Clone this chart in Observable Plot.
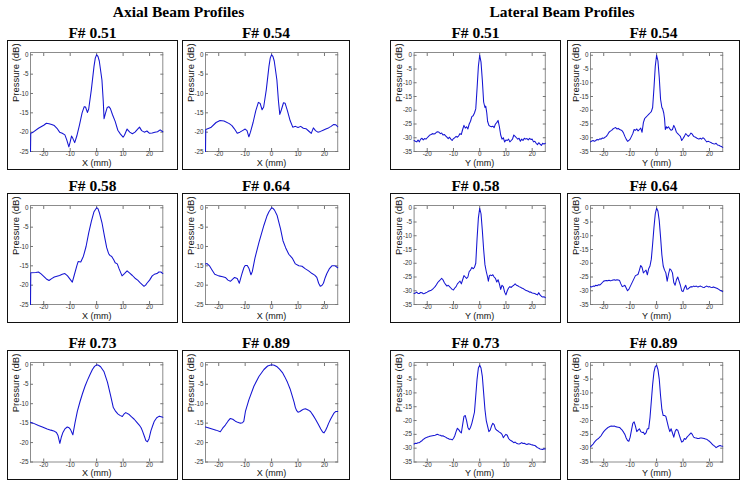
<!DOCTYPE html>
<html>
<head>
<meta charset="utf-8">
<script src="https://cdn.jsdelivr.net/npm/d3@7"></script>
<script src="https://cdn.jsdelivr.net/npm/@observablehq/plot@0.6"></script>
<style>
  html, body { margin: 0; padding: 0; background: #fff; }
  #root { position: relative; width: 745px; height: 486px; overflow: hidden; background: #fff; }
  .main-title, .panel-title { position: absolute; text-align: center; font-family: "Liberation Serif", "Times New Roman", serif; font-weight: bold; font-size: 15.5px; line-height: 16px; color: #000; white-space: nowrap; }
  .box { position: absolute; box-sizing: border-box; border: 1.5px solid #111; pointer-events: none; }
</style>
</head>
<body>
<div id="root"></div>
<script>
// ---- data ----
const groupTitles = ["Axial Beam Profiles", "Lateral Beam Profiles"];
const fNumbers = ["F# 0.51", "F# 0.54", "F# 0.58", "F# 0.64", "F# 0.73", "F# 0.89"];
const xTicks = [-20, -10, 0, 10, 20];
const axialYTicks = [0, -5, -10, -15, -20, -25];
const lateralYTicks = [0, -5, -10, -15, -20, -25, -30, -35];
const axialXLabel = "X (mm)";
const lateralXLabel = "Y (mm)";
const yLabel = "Pressure (dB)";

const axial051 = [[-25,-25],[-24.9,-20.3],[-24,-20],[-22,-19],[-20,-18.2],[-19,-17.7],[-18,-17.8],[-17,-18],[-16,-18.3],[-15,-19],[-14,-20],[-13,-20.3],[-12,-20.7],[-11.3,-22],[-10.5,-23.8],[-10,-22.5],[-9.5,-21],[-9,-21.6],[-8.3,-22.7],[-7.5,-21],[-6.5,-18.2],[-5.5,-15],[-4.7,-13.4],[-4.2,-13.5],[-3.5,-14.9],[-3,-14],[-2,-9],[-1,-3],[-0.5,-0.8],[0,0],[0.5,-0.4],[1,-1.6],[2,-6.5],[2.5,-12],[2.8,-16.5],[3.3,-15.2],[4,-13.6],[4.6,-13.4],[5.2,-13.9],[6,-15.5],[7,-17.2],[8,-19.5],[9,-20.5],[10,-21.3],[10.5,-20.8],[11.5,-19.2],[12.5,-20],[13.5,-20.4],[14.5,-20],[15.5,-19.2],[16.2,-18.7],[17,-19.6],[18,-20],[19,-19.7],[20,-20.3],[21,-20.2],[22,-20],[23,-19.9],[24,-19.4],[25,-19.9]];
const axial054 = [[-25,-25],[-24.9,-19.3],[-23,-18.8],[-21,-17.5],[-19.5,-17],[-18,-17.1],[-16,-17.8],[-15,-18.3],[-14,-19.2],[-13,-20.3],[-12,-20],[-11,-19.6],[-10,-19.2],[-9.3,-19.6],[-8.6,-21.2],[-8,-20],[-7,-17.5],[-6,-14.5],[-5,-12.3],[-4.3,-12.6],[-3.6,-14.2],[-3,-13.5],[-2,-9],[-1,-3],[-0.5,-0.8],[0,0],[0.5,-0.4],[1,-1.6],[2,-6.5],[2.6,-12],[3.1,-15.4],[3.7,-14.2],[4.5,-12.4],[5.1,-12.5],[6,-14.5],[7,-17],[8,-18.7],[9,-18.5],[10,-18.8],[11,-18.5],[12,-19],[13,-19.1],[14,-19.7],[15,-20.3],[15.8,-18.9],[16.6,-19.6],[17.5,-20],[18.5,-19.8],[19.5,-19.5],[20.5,-19.2],[21.5,-18.9],[22.5,-18.5],[23.5,-18],[24.3,-18.1],[25,-18.6]];
const axial058 = [[-25,-25],[-24.9,-16.8],[-23,-16.7],[-22,-16.6],[-21,-17.1],[-20,-17.7],[-19,-18.4],[-18,-18.8],[-17,-18.3],[-16,-17.9],[-15,-17.7],[-14,-17.5],[-13,-17.2],[-12,-17],[-11,-17.6],[-10,-18.5],[-9.2,-19.2],[-8.5,-17.5],[-7.5,-15],[-7,-13.9],[-6,-14],[-5,-12.5],[-4,-10],[-3,-6.5],[-2,-3.5],[-1,-1],[0,0],[0.5,-0.2],[1,-1.2],[2,-3.8],[3,-7.5],[3.8,-10.3],[4.5,-11.8],[5,-12.3],[5.7,-12.6],[6.5,-13.5],[7,-14.2],[7.8,-14.5],[8.5,-15.8],[9.6,-17.6],[10.5,-17],[11.5,-16.3],[12.5,-16.9],[13.5,-17.5],[14.5,-18.2],[15.5,-18.7],[16.5,-19.4],[17.3,-19.9],[17.9,-20.3],[18.5,-20],[19,-19.5],[20,-18.7],[21,-17.6],[21.8,-17.2],[22.8,-17],[23.5,-16.6],[24.3,-16.6],[25,-17]];
const axial064 = [[-25,-14.5],[-24.4,-14.4],[-23.5,-15],[-22.6,-16],[-21.5,-17.2],[-20,-17.6],[-18.5,-17.8],[-17.5,-18],[-16.5,-18.7],[-15.6,-19],[-14.8,-18.5],[-14,-18],[-13,-18.3],[-12.2,-19.5],[-11.6,-18],[-11.2,-17],[-10.5,-15.5],[-10,-14.9],[-9.2,-14.9],[-8.6,-15.6],[-7.8,-17.3],[-7.3,-16.5],[-6.3,-13],[-4.8,-9],[-2.9,-4.5],[-1.8,-2.2],[-1,-1],[0,0],[0.6,-0.2],[1.1,-0.6],[2.1,-2],[3.4,-5.5],[4.3,-8.5],[5.3,-10.3],[6.5,-12],[7.8,-13],[9,-14.5],[10.3,-15],[11.5,-15.1],[12.8,-15.8],[14,-16.3],[15.3,-17],[16.3,-17.4],[17.1,-18],[17.8,-19.5],[18.4,-20.3],[19,-20.1],[19.6,-19.5],[20.3,-18],[20.9,-17],[21.8,-15.8],[22.8,-15],[24,-15],[25,-15.5]];
const axial073 = [[-25,-14.8],[-24,-15],[-22,-15.6],[-20.5,-16],[-18.7,-16.5],[-17.3,-16.8],[-16.2,-17],[-15.2,-17.4],[-14.6,-18.2],[-13.9,-20.2],[-13.3,-18.5],[-12.8,-17.5],[-12,-16.5],[-11.1,-16],[-10.4,-16.2],[-9.9,-16.6],[-9,-18],[-8.2,-15],[-7.3,-12],[-6.3,-9.5],[-5.4,-7.5],[-4.4,-5.5],[-3.5,-4],[-2.5,-2.5],[-1.6,-1.2],[-0.8,-0.4],[0,0],[0.7,-0.1],[1.5,-0.5],[2.8,-1.8],[4.1,-4.5],[5.3,-8],[6.3,-11],[7.2,-12],[8,-12.6],[8.8,-13],[9.7,-13.3],[10.3,-12.7],[11,-12.3],[12.3,-12.8],[13.2,-13.4],[14.2,-14],[15.2,-14.8],[16.1,-15.5],[16.8,-16.2],[17.3,-17],[18,-18.3],[18.6,-19.5],[19.2,-19.8],[19.8,-19],[20.5,-17],[21.2,-15.6],[21.8,-14.5],[22.7,-13.6],[23.7,-13.2],[25,-13.5]];
const axial089 = [[-25,-16],[-24,-16.2],[-22.5,-16.5],[-21,-16.8],[-19.4,-17.2],[-18.5,-16.3],[-17.5,-15.5],[-16.5,-14.5],[-15.6,-13.8],[-14.7,-14],[-13.7,-14.5],[-12.8,-14.8],[-11.8,-15],[-11,-14.9],[-10.5,-14.5],[-9.9,-12],[-8.6,-9],[-6.7,-5.5],[-4.8,-3],[-2.9,-1.2],[-1.5,-0.3],[0,0],[1,-0.1],[2.1,-0.5],[3,-1.1],[4.1,-2],[5,-3.1],[6,-4.5],[7,-6.2],[7.8,-8],[8.5,-9.6],[9,-11],[9.5,-11.8],[10,-12.2],[10.7,-12],[11.4,-11.7],[12.1,-11.4],[12.8,-11.3],[13.8,-11.6],[14.7,-12],[15.7,-13],[16.6,-14],[17.6,-15.2],[18.6,-16.5],[19.3,-17.3],[19.8,-17.5],[20.4,-16.9],[21,-16],[21.6,-15],[22.3,-14],[23.5,-12.5],[24.3,-12],[25,-12]];

const lateral051 = [[-25,-31],[-24.5,-31.3],[-24,-31.5],[-23.5,-30.8],[-23,-31.5],[-22.5,-30.5],[-22,-30.2],[-21.5,-30.8],[-21,-30.3],[-20.5,-30.5],[-20,-30],[-19.5,-29.5],[-19,-29],[-18.5,-28.8],[-18,-28.5],[-17.5,-28.6],[-17,-28.5],[-16.5,-28],[-16,-27.8],[-15.5,-28],[-15,-28.5],[-14.5,-28.3],[-14,-29],[-13.5,-28.8],[-13,-29.3],[-12.5,-29.8],[-12,-30.3],[-11.5,-29.8],[-11,-30.5],[-10.5,-31],[-10,-30.3],[-9.5,-30],[-9,-29.5],[-8.5,-29.8],[-8,-29.3],[-7.5,-28.5],[-7,-28.8],[-6.5,-27],[-6,-25.5],[-5.5,-26.5],[-5,-26],[-4.5,-26.8],[-4,-25],[-3.5,-24],[-3,-22.3],[-2.5,-22],[-2,-21],[-1.5,-19.5],[-1,-12],[-0.5,-4],[0,0],[0.5,-2.5],[1,-9],[1.5,-17],[2,-19],[2.3,-18.5],[2.7,-21],[3,-24],[3.5,-25.5],[4,-25.8],[4.5,-26],[5,-25.8],[5.5,-26.3],[6,-25],[6.5,-24.5],[7,-23.7],[7.5,-26],[8,-29],[8.5,-30.5],[9,-30],[9.5,-31.5],[10,-30.8],[10.5,-31],[11,-30.5],[11.5,-31.5],[12,-31],[12.5,-30.5],[13,-29],[13.5,-29.5],[14,-30],[14.5,-30.5],[15,-30.2],[15.5,-31.3],[16,-30.5],[16.5,-31],[17,-30.2],[17.5,-30.5],[18,-30.3],[18.5,-30.8],[19,-30.2],[19.5,-30.6],[20,-30.5],[20.5,-31.5],[21,-31.3],[21.5,-32],[22,-32.5],[22.5,-31.8],[23,-32.3],[23.5,-32.8],[24,-32],[24.5,-32.3],[25,-32]];
const lateral054 = [[-25,-31.5],[-24.5,-31.2],[-24,-31],[-23.5,-31.3],[-23,-31],[-22.5,-30.6],[-22,-30.8],[-21.5,-30.4],[-21,-30.5],[-20.5,-30.1],[-20,-30.2],[-19.5,-29.8],[-19,-29.5],[-18.5,-28.8],[-18,-28],[-17.5,-27.6],[-17,-27.3],[-16.5,-26.8],[-16,-26.5],[-15.5,-26.3],[-15,-26.8],[-14.5,-26.6],[-14,-27],[-13.5,-27.2],[-13,-27.5],[-12.5,-28.3],[-12,-29.5],[-11.5,-30.5],[-11,-31.3],[-10.5,-31],[-10,-30.5],[-9.5,-29.5],[-9,-28.5],[-8.5,-27],[-8,-27.3],[-7.5,-26.8],[-7,-27.5],[-6.5,-27],[-6,-26.5],[-5.5,-28],[-5,-24.5],[-4.5,-23],[-4,-22.5],[-3.5,-22],[-3,-21.5],[-2.5,-21],[-2,-20.5],[-1.5,-19],[-1,-12],[-0.5,-4],[0,0],[0.5,-2],[1,-8],[1.5,-16],[2,-19],[2.3,-19.5],[2.7,-21],[3,-23],[3.3,-27],[3.7,-26],[4,-26.5],[4.5,-26],[5,-26.8],[5.5,-27.3],[6,-27],[6.5,-25.5],[7,-26.5],[7.5,-28],[8,-28.5],[8.5,-29],[9,-29.5],[9.5,-31],[10,-30.3],[10.5,-29.5],[11,-28.5],[11.5,-29],[12,-29.5],[12.5,-29],[13,-28.3],[13.5,-28.7],[14,-29.5],[14.5,-29.7],[15,-30],[15.5,-30.3],[16,-30.5],[16.5,-30.2],[17,-30.5],[17.5,-30],[18,-30.3],[18.5,-31],[19,-31.5],[19.5,-31.3],[20,-31.5],[20.5,-31.7],[21,-32],[21.5,-32.2],[22,-32.3],[22.5,-32],[23,-32.6],[23.5,-32.7],[24,-33],[24.5,-33.2],[25,-33.5]];
const lateral058 = [[-25,-31],[-24.5,-30.8],[-24,-30.5],[-23.5,-31],[-23,-31],[-22.5,-30.6],[-22,-30.7],[-21.5,-31.1],[-21,-31],[-20.5,-30.7],[-20,-30.5],[-19.5,-30.2],[-19,-30],[-18.5,-29.8],[-18,-29.5],[-17.5,-29],[-17,-28.5],[-16.5,-27.8],[-16,-27],[-15.5,-26.5],[-15,-26],[-14.5,-25.5],[-14,-26],[-13.5,-27],[-13,-27.7],[-12.5,-28.3],[-12,-28],[-11.5,-28.5],[-11,-29],[-10.5,-29.5],[-10,-29.7],[-9.5,-29],[-9,-28.5],[-8.5,-27.5],[-8,-27],[-7.5,-26.5],[-7,-27.5],[-6.5,-26],[-6,-24.5],[-5.5,-25],[-5,-25.5],[-4.5,-25],[-4,-23],[-3.5,-22.5],[-3,-21.5],[-2.5,-22],[-2,-21.5],[-1.5,-20],[-1,-11],[-0.5,-3.5],[0,0],[0.5,-2],[1,-8],[1.5,-15],[2,-20.5],[2.5,-23],[3,-25],[3.3,-26.5],[3.7,-24.5],[4,-24.3],[4.5,-24.5],[5,-24.2],[5.5,-25],[6,-25.5],[6.5,-26.8],[7,-26],[7.5,-27.5],[8,-29.5],[8.5,-28],[9,-28.5],[9.5,-30.5],[10,-31.5],[10.5,-30],[11,-29],[11.5,-28.5],[12,-28.8],[12.5,-28.3],[13,-28],[13.5,-27.5],[14,-28],[14.5,-28.2],[15,-28.5],[15.5,-28.7],[16,-29],[16.5,-29.2],[17,-29.5],[17.5,-29.8],[18,-30],[18.5,-30.2],[19,-30.5],[19.5,-30.5],[20,-30.8],[20.5,-30.9],[21,-31],[21.5,-31.3],[22,-31.5],[22.5,-30.7],[23,-31.5],[23.5,-32],[24,-32.3],[24.5,-32.2],[25,-32.5]];
const lateral064 = [[-25,-28.5],[-24.5,-28.6],[-24,-28.3],[-23.5,-28.4],[-23,-28],[-22.5,-28.2],[-22,-27.8],[-21.5,-27.9],[-21,-27.5],[-20.5,-27],[-20,-26.5],[-19.5,-26.4],[-19,-26.3],[-18.5,-26.4],[-18,-26.2],[-17.5,-26.4],[-17,-26.3],[-16.5,-26.1],[-16,-26],[-15.5,-26.2],[-15,-26],[-14.5,-26.1],[-14,-26.3],[-13.5,-27.5],[-13,-28.5],[-12.5,-28.3],[-12,-28],[-11.5,-29],[-11,-30],[-10.5,-29.5],[-10,-28.5],[-9.5,-27.5],[-9,-26.5],[-8.5,-25.5],[-8,-24.5],[-7.5,-24.3],[-7,-24],[-6.5,-22.5],[-6,-20.8],[-5.5,-21.5],[-5,-23.5],[-4.5,-23],[-4,-22.5],[-3.5,-24.2],[-3,-22],[-2.5,-21],[-2,-18.5],[-1.5,-13],[-1,-7],[-0.5,-2],[0,0],[0.5,-1],[1,-4.5],[1.5,-10.5],[2,-17],[2.5,-21],[3,-22.5],[3.5,-23.5],[4,-26.5],[4.5,-24],[5,-22],[5.5,-22.5],[6,-23.5],[6.5,-27],[7,-28],[7.5,-26],[8,-25],[8.5,-26.5],[9,-28],[9.5,-30],[10,-30.3],[10.5,-29],[11,-28],[11.5,-29.5],[12,-29.3],[12.5,-28.8],[13,-28.5],[13.5,-28.6],[14,-28.3],[14.5,-28.5],[15,-28.3],[15.5,-28.6],[16,-28.5],[16.5,-28.3],[17,-28.5],[17.5,-28.7],[18,-28.8],[18.5,-28.5],[19,-28.3],[19.5,-28.6],[20,-28.5],[20.5,-28.7],[21,-28.8],[21.5,-28.6],[22,-28.8],[22.5,-29],[23,-29.2],[23.5,-29.5],[24,-29.8],[24.5,-30],[25,-30.3]];
const lateral073 = [[-25,-28.5],[-24.5,-28.2],[-24,-28.3],[-23.5,-28],[-23,-28],[-22.5,-27.6],[-22,-27.3],[-21.5,-26.8],[-21,-26.5],[-20.5,-26.2],[-20,-26],[-19.5,-25.9],[-19,-25.7],[-18.5,-25.6],[-18,-25.5],[-17.5,-25.4],[-17,-25.3],[-16.5,-25.1],[-16,-25],[-15.5,-25.2],[-15,-25.3],[-14.5,-25.6],[-14,-25.5],[-13.5,-25.8],[-13,-26],[-12.5,-26.3],[-12,-26.5],[-11.5,-26.8],[-11,-26.8],[-10.5,-27],[-10,-26.5],[-9.5,-25.5],[-9,-24],[-8.5,-22.8],[-8,-23.3],[-7.5,-24],[-7,-24.5],[-6.5,-21.5],[-6,-18.5],[-5.5,-18.2],[-5,-20],[-4.5,-22.5],[-4,-23.3],[-3.5,-22.5],[-3,-21],[-2.5,-19],[-2,-17],[-1.5,-11],[-1,-5],[-0.5,-1],[0,0],[0.5,-1],[1,-4],[1.5,-10],[2,-16],[2.5,-20],[3,-22],[3.5,-24],[4,-23.5],[4.5,-22],[5,-21],[5.5,-21.5],[6,-23],[6.5,-23.5],[7,-23.8],[7.5,-24.2],[8,-24.5],[8.5,-25],[9,-26.2],[9.5,-25.5],[10,-25],[10.5,-25.3],[11,-26.5],[11.5,-27],[12,-27.3],[12.5,-27.6],[13,-28],[13.5,-27.8],[14,-28.2],[14.5,-28.4],[15,-28.5],[15.5,-28.3],[16,-28],[16.5,-28.3],[17,-28.2],[17.5,-28.5],[18,-28.7],[18.5,-28.4],[19,-28.5],[19.5,-28.7],[20,-28.8],[20.5,-28.9],[21,-29],[21.5,-29.4],[22,-29.8],[22.5,-30],[23,-30.3],[23.5,-30.4],[24,-30.5],[24.5,-30.2],[25,-30.3]];
const lateral089 = [[-25,-29.5],[-24.5,-29],[-24,-28.5],[-23.5,-27.8],[-23,-27.3],[-22.5,-26.8],[-22,-26.5],[-21.5,-26],[-21,-25.5],[-20.5,-24.7],[-20,-24],[-19.5,-23.5],[-19,-23],[-18.5,-22.6],[-18,-22.3],[-17.5,-22.1],[-17,-22],[-16.5,-22.1],[-16,-22],[-15.5,-22.2],[-15,-22.3],[-14.5,-22.4],[-14,-22.5],[-13.5,-23],[-13,-23.5],[-12.5,-24.2],[-12,-25],[-11.5,-26.3],[-11,-27.2],[-10.5,-27.5],[-10,-26],[-9.5,-23.5],[-9,-21],[-8.5,-20.5],[-8,-22],[-7.5,-24],[-7,-23.5],[-6.5,-23],[-6,-24],[-5.5,-24.3],[-5,-24.2],[-4.5,-25],[-4,-24.5],[-3.5,-23],[-3,-23],[-2.5,-19],[-2,-13],[-1.5,-7],[-1,-2.5],[-0.5,-0.5],[0,0],[0.5,-1.5],[1,-5],[1.5,-11],[2,-16],[2.5,-18.2],[3,-18.2],[3.5,-18.5],[4,-20.5],[4.5,-22.5],[5,-24],[5.5,-23],[6,-24.5],[6.5,-26],[7,-24],[7.5,-23.2],[8,-23.5],[8.5,-25],[9,-26.5],[9.5,-27.8],[10,-27.5],[10.5,-26.5],[11,-26.8],[11.5,-26],[12,-25.5],[12.5,-25],[13,-24.5],[13.5,-25],[14,-26],[14.5,-26.2],[15,-26.3],[15.5,-26.5],[16,-26.5],[16.5,-26.3],[17,-26.3],[17.5,-26.4],[18,-26.5],[18.5,-26.7],[19,-26.8],[19.5,-27.2],[20,-27.5],[20.5,-28],[21,-28.5],[21.5,-29],[22,-29.3],[22.5,-29.8],[23,-29.5],[23.5,-29.2],[24,-29],[24.5,-29.2],[25,-29.3]];

const axialSeries = [axial051, axial054, axial058, axial064, axial073, axial089];
const lateralSeries = [lateral051, lateral054, lateral058, lateral064, lateral073, lateral089];

// ---- layout ----
const root = document.getElementById("root");
const rows = [{top: 40, height: 129.5}, {top: 193.3, height: 129.5}, {top: 349.5, height: 130}];
const axialCols = [{left: 7, width: 171, ml: 23, mr: 15.7}, {left: 182, width: 168, ml: 23, mr: 12.8}];
const lateralCols = [{left: 390, width: 171, ml: 23.6, mr: 16.2}, {left: 567, width: 173, ml: 23, mr: 17.8}];

function addDiv(cls, text, styles) {
  const d = document.createElement("div");
  d.className = cls;
  if (text != null) d.textContent = text;
  Object.assign(d.style, styles);
  root.appendChild(d);
  return d;
}

addDiv("main-title", groupTitles[0], {left: "7px", width: "343px", top: "4px"});
addDiv("main-title", groupTitles[1], {left: "380px", width: "364px", top: "4px"});

function panel(data, col, row, title, yDomain, yTicks, xLabel) {
  const w = col.width, h = row.height;
  const fmt = d => String(d);
  const chart = Plot.plot({
    width: w,
    height: h,
    marginLeft: col.ml,
    marginRight: col.mr,
    marginTop: 12,
    marginBottom: 18.5,
    x: {domain: [-25, 25]},
    y: {domain: yDomain},
    style: {fontFamily: "'Liberation Sans', Arial, sans-serif", fontSize: "6.3px", color: "#333", background: "transparent", overflow: "visible"},
    marks: [
      Plot.frame({stroke: "#8c8c8c", strokeWidth: 1}),
      Plot.axisX({anchor: "bottom", ticks: xTicks, tickSize: -3, tickPadding: 3.3, tickFormat: fmt, label: null, stroke: "#777"}),
      Plot.axisX({anchor: "top", ticks: xTicks, tickSize: -3, tickFormat: () => "", label: null, stroke: "#777"}),
      Plot.axisY({anchor: "left", ticks: yTicks, tickSize: -3, tickPadding: 5, tickFormat: fmt, label: null, stroke: "#777"}),
      Plot.axisY({anchor: "right", ticks: yTicks, tickSize: -3, tickFormat: () => "", label: null, stroke: "#777"}),
      Plot.line(data, {x: d => d[0], y: d => d[1], stroke: "#1414d2", strokeWidth: 1.05, curve: "linear"}),
      Plot.text([xLabel], {text: d => d, frameAnchor: "bottom", dy: 14, fontSize: 9, fill: "#111"}),
      Plot.text([yLabel], {text: d => d, frameAnchor: "left", dx: -15, rotate: -90, fontSize: 9.5, fill: "#111"})
    ]
  });
  chart.style.position = "absolute";
  chart.style.left = col.left + "px";
  chart.style.top = row.top + "px";
  root.appendChild(chart);
  addDiv("box", null, {left: col.left + "px", top: row.top + "px", width: w + "px", height: h + "px"});
  addDiv("panel-title", title, {left: col.left + "px", width: w + "px", top: (row.top - 15) + "px"});
}

fNumbers.forEach((t, i) => {
  const r = rows[Math.floor(i / 2)];
  panel(axialSeries[i], axialCols[i % 2], r, t, [-25, 0.6], axialYTicks, axialXLabel);
  panel(lateralSeries[i], lateralCols[i % 2], r, t, [-35, 1], lateralYTicks, lateralXLabel);
});
</script>
</body>
</html>
